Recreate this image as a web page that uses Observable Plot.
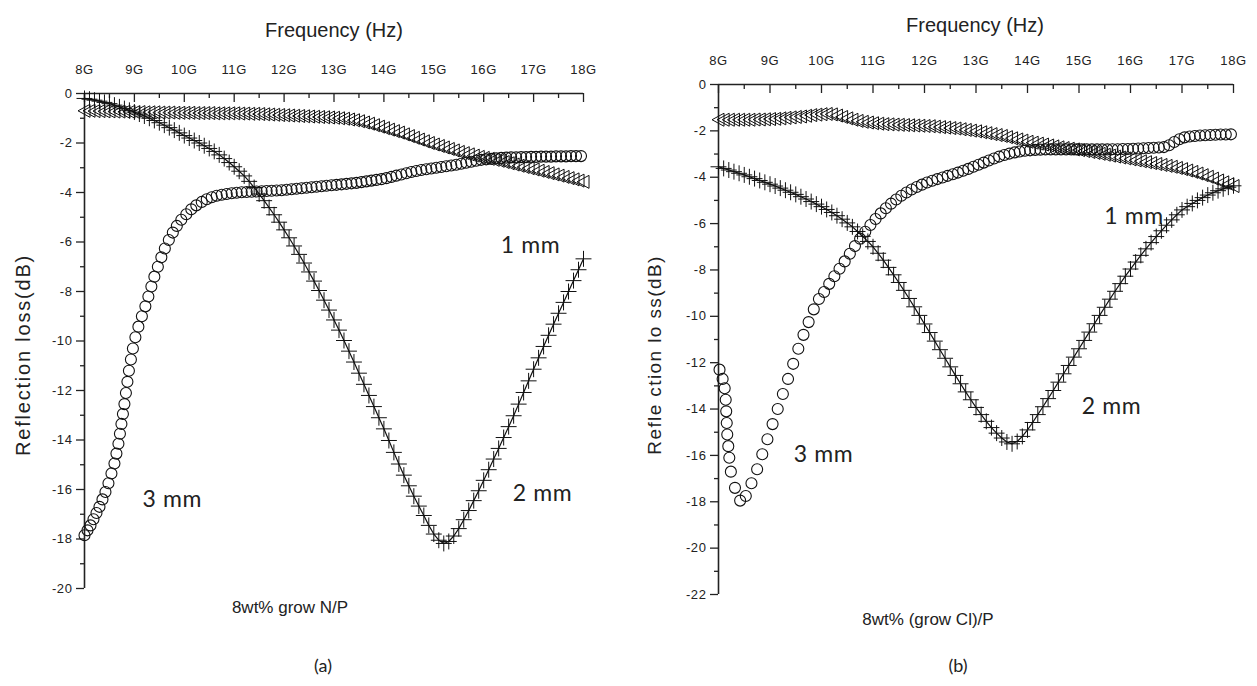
<!DOCTYPE html>
<html><head><meta charset="utf-8">
<script src="https://cdn.jsdelivr.net/npm/d3@7"></script>
<script src="https://cdn.jsdelivr.net/npm/@observablehq/plot@0.6"></script>
<style>
body{margin:0;background:#fff;}
#wrap{position:relative;width:1257px;height:686px;overflow:hidden;font-family:"Liberation Sans",Arial,sans-serif;color:#222;}
.abs{position:absolute;white-space:nowrap;transform:translate(-50%,-50%);}
.rot{transform:translate(-50%,-50%) rotate(-90deg);}
</style></head><body><div id="wrap"></div>
<script>
// ---- sweep grid and tick values ----
const freqGrid = d3.range(101).map(i => Math.round((8 + i * 0.1) * 100) / 100);
const xMajor = [8, 9, 10, 11, 12, 13, 14, 15, 16, 17, 18];
const xMinor = [8.5, 9.5, 10.5, 11.5, 12.5, 13.5, 14.5, 15.5, 16.5, 17.5];
const yMajorA = [0, -2, -4, -6, -8, -10, -12, -14, -16, -18, -20];
const yMinorA = [-1, -3, -5, -7, -9, -11, -13, -15, -17, -19];
const yMajorB = [0, -2, -4, -6, -8, -10, -12, -14, -16, -18, -20, -22];
const yMinorB = [-1, -3, -5, -7, -9, -11, -13, -15, -17, -19, -21];

// ---- panel (a): 8wt% grow N/P ----
const a1mm = [-0.70,-0.70,-0.71,-0.71,-0.72,-0.72,-0.73,-0.73,-0.74,-0.74,
 -0.75,-0.75,-0.76,-0.76,-0.76,-0.77,-0.77,-0.77,-0.78,-0.78,
 -0.78,-0.78,-0.79,-0.79,-0.79,-0.79,-0.80,-0.80,-0.80,-0.80,
 -0.80,-0.81,-0.81,-0.82,-0.82,-0.83,-0.84,-0.85,-0.86,-0.87,
 -0.88,-0.89,-0.90,-0.91,-0.92,-0.93,-0.94,-0.95,-0.96,-0.97,
 -0.98,-1.00,-1.02,-1.05,-1.08,-1.12,-1.17,-1.22,-1.28,-1.34,
 -1.40,-1.46,-1.52,-1.58,-1.65,-1.72,-1.79,-1.86,-1.93,-2.00,
 -2.06,-2.12,-2.18,-2.24,-2.30,-2.36,-2.41,-2.46,-2.51,-2.56,
 -2.60,-2.64,-2.68,-2.72,-2.77,-2.82,-2.87,-2.92,-2.97,-3.02,
 -3.07,-3.12,-3.17,-3.22,-3.27,-3.32,-3.37,-3.42,-3.47,-3.52,
 -3.57];
const a2mm = [-0.20,-0.23,-0.27,-0.31,-0.36,-0.41,-0.47,-0.54,-0.61,-0.68,
 -0.75,-0.83,-0.91,-1.00,-1.09,-1.18,-1.28,-1.38,-1.48,-1.59,
 -1.70,-1.80,-1.90,-2.00,-2.11,-2.22,-2.34,-2.48,-2.63,-2.79,
 -2.96,-3.14,-3.33,-3.55,-3.80,-4.06,-4.33,-4.61,-4.90,-5.20,
 -5.51,-5.83,-6.16,-6.50,-6.85,-7.21,-7.58,-7.96,-8.35,-8.75,
 -9.15,-9.56,-9.98,-10.41,-10.85,-11.30,-11.75,-12.20,-12.65,-13.10,
 -13.55,-14.02,-14.50,-14.97,-15.42,-15.85,-16.27,-16.67,-17.05,-17.45,
 -17.80,-18.05,-18.18,-18.10,-17.88,-17.58,-17.22,-16.85,-16.45,-16.05,
 -15.63,-15.20,-14.77,-14.34,-13.90,-13.46,-13.02,-12.55,-12.08,-11.61,
 -11.14,-10.68,-10.22,-9.77,-9.32,-8.88,-8.44,-8.00,-7.56,-7.12,
 -6.68];
const a3mmF = [8.00,8.06,8.12,8.18,8.24,8.30,8.36,8.42,8.48,8.54,
 8.60,8.64,8.68,8.71,8.74,8.77,8.80,8.83,8.86,8.89,
 8.93,8.97,9.02,9.08,9.15,9.22,9.28,9.34,9.40,9.47,
 9.54,9.61,9.69,9.77,9.85,9.94,10.04,10.14,10.24,10.35,
 10.45,10.55,
 10.65,10.75,10.85,10.95,11.05,11.15,11.25,11.35,11.45,11.55,
 11.65,11.75,11.85,11.95,12.05,12.15,12.25,12.35,12.45,12.55,
 12.65,12.75,12.85,12.95,13.05,13.15,13.25,13.35,13.45,13.55,
 13.65,13.75,13.85,13.95,14.05,14.15,14.25,14.35,14.45,14.55,
 14.65,14.75,14.85,14.95,15.05,15.15,15.25,15.35,15.45,15.55,
 15.65,15.75,15.85,15.95,16.05,16.15,16.25,16.35,16.45,16.55,
 16.65,16.75,16.85,16.95,17.05,17.15,17.25,17.35,17.45,17.55,
 17.65,17.75,17.85,17.95];
const a3mmV = [-17.85,-17.65,-17.45,-17.20,-16.95,-16.70,-16.40,-16.10,-15.75,-15.35,
 -14.95,-14.55,-14.15,-13.75,-13.35,-12.95,-12.55,-12.10,-11.65,-11.20,
 -10.75,-10.30,-9.85,-9.42,-9.00,-8.60,-8.20,-7.80,-7.40,-7.00,
 -6.62,-6.26,-5.92,-5.62,-5.35,-5.10,-4.88,-4.68,-4.52,-4.38,
 -4.27,-4.19,
 -4.13,-4.09,-4.06,-4.03,-4.01,-3.99,-3.98,-3.97,-3.96,-3.95,
 -3.94,-3.93,-3.92,-3.91,-3.89,-3.87,-3.85,-3.83,-3.81,-3.79,
 -3.77,-3.75,-3.73,-3.71,-3.69,-3.67,-3.65,-3.63,-3.61,-3.58,
 -3.55,-3.52,-3.49,-3.46,-3.42,-3.37,-3.32,-3.27,-3.22,-3.17,
 -3.13,-3.09,-3.06,-3.03,-3.00,-2.97,-2.94,-2.91,-2.88,-2.84,
 -2.80,-2.76,-2.72,-2.68,-2.66,-2.64,-2.62,-2.60,-2.59,-2.58,
 -2.58,-2.57,-2.57,-2.56,-2.56,-2.55,-2.55,-2.55,-2.54,-2.54,
 -2.54,-2.53,-2.53,-2.53];
const aLabels = [{t:"1 mm", f:16.94, v:-6.13}, {t:"2 mm", f:17.18, v:-16.15}, {t:"3 mm", f:9.76, v:-16.4}];

// ---- panel (b): 8wt% (grow Cl)/P ----
const b1mm = [-1.52,-1.52,-1.52,-1.52,-1.52,-1.52,-1.52,-1.51,-1.51,-1.50,
 -1.49,-1.48,-1.46,-1.44,-1.42,-1.40,-1.38,-1.35,-1.32,-1.30,
 -1.28,-1.27,-1.29,-1.34,-1.40,-1.46,-1.52,-1.57,-1.61,-1.64,
 -1.67,-1.69,-1.71,-1.72,-1.73,-1.74,-1.75,-1.76,-1.77,-1.78,
 -1.79,-1.80,-1.82,-1.84,-1.86,-1.88,-1.90,-1.93,-1.96,-1.99,
 -2.02,-2.06,-2.10,-2.14,-2.18,-2.22,-2.27,-2.32,-2.37,-2.42,
 -2.47,-2.51,-2.55,-2.59,-2.63,-2.67,-2.71,-2.74,-2.77,-2.80,
 -2.83,-2.87,-2.91,-2.95,-2.99,-3.03,-3.07,-3.11,-3.15,-3.19,
 -3.23,-3.27,-3.31,-3.35,-3.39,-3.43,-3.47,-3.51,-3.55,-3.60,
 -3.65,-3.71,-3.77,-3.84,-3.91,-3.98,-4.06,-4.14,-4.22,-4.30,
 -4.38];
const b2mm = [-3.55,-3.62,-3.69,-3.76,-3.83,-3.90,-3.98,-4.06,-4.14,-4.22,
 -4.30,-4.38,-4.47,-4.56,-4.65,-4.74,-4.84,-4.94,-5.05,-5.16,
 -5.27,-5.39,-5.52,-5.66,-5.81,-5.97,-6.14,-6.34,-6.55,-6.77,
 -7.00,-7.28,-7.58,-7.89,-8.21,-8.54,-8.88,-9.23,-9.59,-9.96,
 -10.33,-10.70,-11.07,-11.44,-11.81,-12.18,-12.55,-12.91,-13.26,-13.60,
 -13.93,-14.24,-14.53,-14.80,-15.04,-15.25,-15.42,-15.50,-15.40,-15.18,
 -14.90,-14.58,-14.24,-13.90,-13.55,-13.20,-12.84,-12.48,-12.12,-11.76,
 -11.40,-11.04,-10.68,-10.32,-9.96,-9.61,-9.26,-8.92,-8.59,-8.27,
 -7.96,-7.66,-7.37,-7.09,-6.82,-6.56,-6.31,-6.07,-5.84,-5.62,
 -5.41,-5.27,-5.13,-5.00,-4.88,-4.77,-4.67,-4.58,-4.50,-4.43,
 -4.37];
const b3mmF = [8.02,8.08,8.12,8.14,8.15,8.16,8.17,8.19,8.21,8.24,
 8.32,8.42,8.53,8.64,8.75,8.85,8.95,9.05,9.15,9.25,
 9.35,9.45,9.55,9.65,9.75,9.85,9.95,
 10.05,10.15,10.25,10.35,10.45,10.55,10.65,10.75,10.85,10.95,
 11.05,11.15,11.25,11.35,11.45,11.55,11.65,11.75,11.85,11.95,
 12.05,12.15,12.25,12.35,12.45,12.55,12.65,12.75,12.85,12.95,
 13.05,13.15,13.25,13.35,13.45,13.55,13.65,13.75,13.85,13.95,
 14.05,14.15,14.25,14.35,14.45,14.55,14.65,14.75,14.85,14.95,
 15.05,15.15,15.25,15.35,15.45,15.55,15.65,15.75,15.85,15.95,
 16.05,16.15,16.25,16.35,16.45,16.55,16.65,16.75,16.85,16.95,
 17.05,17.15,17.25,17.35,17.45,17.55,17.65,17.75,17.85,17.95];
const b3mmV = [-12.30,-12.70,-13.10,-13.60,-14.10,-14.60,-15.10,-15.60,-16.10,-16.70,
 -17.40,-17.95,-17.75,-17.20,-16.60,-15.95,-15.30,-14.65,-14.00,-13.35,
 -12.70,-12.05,-11.40,-10.80,-10.25,-9.70,-9.25,
 -8.95,-8.60,-8.27,-7.95,-7.63,-7.30,-6.97,-6.65,-6.35,-6.06,
 -5.80,-5.56,-5.34,-5.14,-4.96,-4.80,-4.66,-4.53,-4.42,-4.32,
 -4.23,-4.15,-4.08,-4.01,-3.94,-3.87,-3.80,-3.72,-3.64,-3.55,
 -3.46,-3.37,-3.28,-3.19,-3.11,-3.04,-2.98,-2.93,-2.89,-2.86,
 -2.84,-2.82,-2.81,-2.80,-2.80,-2.80,-2.80,-2.80,-2.80,-2.80,
 -2.80,-2.80,-2.80,-2.80,-2.80,-2.80,-2.79,-2.79,-2.78,-2.78,
 -2.77,-2.76,-2.75,-2.74,-2.73,-2.72,-2.70,-2.62,-2.48,-2.36,
 -2.28,-2.24,-2.22,-2.20,-2.19,-2.18,-2.17,-2.16,-2.16,-2.15];
const bLabels = [{t:"1 mm", f:16.07, v:-5.69}, {t:"2 mm", f:15.63, v:-13.9}, {t:"3 mm", f:10.04, v:-15.95}];

// left-pointing open triangle (Origin "left triangle" symbol)
const leftTriangle = {
  draw(ctx, size) {
    const r = Math.sqrt(size / Math.PI);
    ctx.moveTo(-r, 0);
    ctx.lineTo(r * 0.85, -r);
    ctx.lineTo(r * 0.85, r);
    ctx.closePath();
  }
};

const INK = "#111";
const FONT = "'Liberation Sans', Arial, sans-serif";
function panel(o) {
  const fh = o.height - o.mT - o.mB;
  const d1 = freqGrid.map((f, i) => ({f, v: o.s1[i]}));
  const d2 = freqGrid.map((f, i) => ({f, v: o.s2[i]}));
  const d3s = o.f3.map((f, i) => ({f, v: o.v3[i]}));
  return Plot.plot({
    width: o.width, height: o.height,
    marginLeft: o.mL, marginTop: o.mT, marginRight: o.mR, marginBottom: o.mB,
    style: {fontFamily: FONT, fontSize: "13px", color: "#222", background: "none", overflow: "visible", letterSpacing: "0.6px"},
    x: {domain: [8, 18], axis: null},
    y: {domain: [o.yMin, 0], axis: null},
    marks: [
      Plot.ruleX(xMajor, {x: d => d, insetBottom: fh - 9, stroke: "#222", strokeWidth: 1.3}),
      Plot.ruleX(xMinor, {x: d => d, insetBottom: fh - 5, stroke: "#222", strokeWidth: 1.3}),
      Plot.axisX(xMajor, {anchor: "top", label: null, tickSize: 0, tickPadding: 20, tickFormat: d => d + "G", fontSize: 13, fill: "#222"}),
      Plot.axisY(o.yMajor, {anchor: "left", label: null, tickSize: 8, tickPadding: 4, tickFormat: d => String(d), fontSize: 13, stroke: "#222", strokeWidth: 1.3, fill: "#222"}),
      Plot.axisY(o.yMinor, {anchor: "left", label: null, tickSize: 4, tickFormat: () => "", stroke: "#222", strokeWidth: 1.3}),
      Plot.ruleX([8], {stroke: "#222", strokeWidth: 1.6}),
      Plot.ruleY([0], {stroke: "#222", strokeWidth: 1.6}),
      Plot.dot(d1, {x: "f", y: "v", symbol: leftTriangle, r: 6.5, stroke: INK, strokeWidth: 1, fill: "none"}),
      Plot.line(d2, {x: "f", y: "v", stroke: INK, strokeWidth: 1.2}),
      Plot.dot(d2, {x: "f", y: "v", symbol: "plus", r: 5.2, stroke: INK, strokeWidth: 1}),
      Plot.dot(d3s, {x: "f", y: "v", symbol: "circle", r: 5.5, stroke: INK, strokeWidth: 1.1, fill: "none"}),
      Plot.text(o.labels, {x: "f", y: "v", text: "t", fontFamily: "Lato, 'Open Sans', sans-serif", fontSize: 23, fill: "#222", letterSpacing: "0px"})
    ]
  });
}

const wrap = document.getElementById("wrap");
function place(node, left, top) {
  node.style.position = "absolute";
  node.style.left = left + "px";
  node.style.top = top + "px";
  wrap.appendChild(node);
}
place(panel({width: 600, height: 600, mL: 84, mT: 93, mR: 17, mB: 12, yMin: -20,
  yMajor: yMajorA, yMinor: yMinorA, s1: a1mm, s2: a2mm, f3: a3mmF, v3: a3mmV, labels: aLabels}), 0, 0);
place(panel({width: 610, height: 606, mL: 78, mT: 84, mR: 17, mB: 12, yMin: -22,
  yMajor: yMajorB, yMinor: yMinorB, s1: b1mm, s2: b2mm, f3: b3mmF, v3: b3mmV, labels: bLabels}), 640, 0);

function txt(s, x, y, css, cls) {
  const d = document.createElement("div");
  d.className = "abs" + (cls ? " " + cls : "");
  d.textContent = s;
  d.style.left = x + "px"; d.style.top = y + "px";
  Object.assign(d.style, css || {});
  wrap.appendChild(d);
}
txt("Frequency (Hz)", 334, 30, {fontSize: "20px"});
txt("Frequency (Hz)", 975, 25, {fontSize: "20px"});
txt("Reflection loss(dB)", 23, 355, {fontSize: "20px", letterSpacing: "1.8px"}, "rot");
txt("Refle ction lo ss(dB)", 655, 355, {fontSize: "19px", letterSpacing: "1.4px"}, "rot");
txt("8wt% grow N/P", 290, 608, {fontSize: "17px"});
txt("8wt% (grow Cl)/P", 928, 620, {fontSize: "17px"});
txt("(a)", 323, 665, {fontSize: "18px", fontFamily: "Lato, sans-serif"});
txt("(b)", 958, 665, {fontSize: "18px", fontFamily: "Lato, sans-serif"});
</script>
</body></html>
